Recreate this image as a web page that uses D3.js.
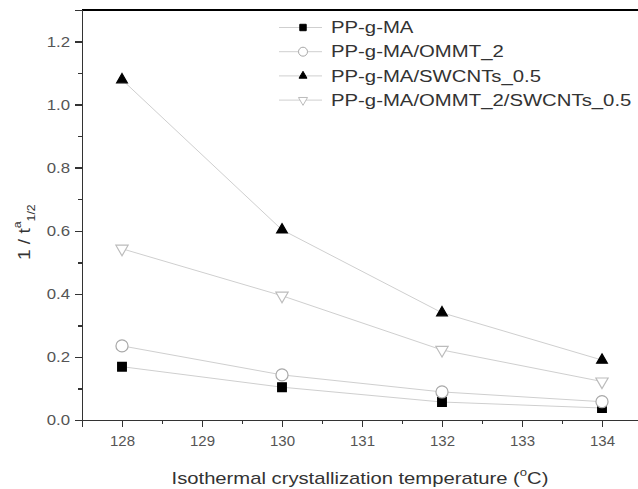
<!DOCTYPE html>
<html>
<head>
  <meta charset="UTF-8">
  <title>1/t1/2 vs isothermal crystallization temperature</title>
  <script src="https://d3js.org/d3.v7.min.js"></script>
  <style>
    body { margin: 0; background: #fff; }
    svg { display: block; font-family: "Liberation Sans", Arial, sans-serif; }
    .axis path, .axis line { stroke: #333; stroke-width: 1.5; shape-rendering: crispEdges; }
    .axis text { fill: #555; font-size: 15px; }
    .series-line { fill: none; stroke: #cfcfcf; stroke-width: 1; }
    .legend text { fill: #333; font-size: 16px; }
  </style>
</head>
<body>
  <svg width="638" height="489"></svg>

  <script>
    const temps = [128, 130, 132, 134];
    const ppgma = [0.169, 0.104, 0.057, 0.038];
    const ommt = [0.235, 0.143, 0.089, 0.058];
    const swcnt = [1.079, 0.603, 0.340, 0.190];
    const ommtSwcnt = [0.543, 0.394, 0.222, 0.122];
    const seriesNames = ["PP-g-MA", "PP-g-MA/OMMT_2", "PP-g-MA/SWCNTs_0.5", "PP-g-MA/OMMT_2/SWCNTs_0.5"];
    const xTicks = [128, 129, 130, 131, 132, 133, 134];
    const yTicks = [0, 0.2, 0.4, 0.6, 0.8, 1.0, 1.2];

    const series = [
      { name: seriesNames[0], values: ppgma, shape: d3.symbolSquare, size: 75, fill: "#000", stroke: "#000", rot: 0 },
      { name: seriesNames[1], values: ommt, shape: d3.symbolCircle, size: 115, fill: "#fff", stroke: "#a8a8a8", rot: 0 },
      { name: seriesNames[2], values: swcnt, shape: d3.symbolTriangle, size: 50, fill: "#000", stroke: "#000", rot: 0 },
      { name: seriesNames[3], values: ommtSwcnt, shape: d3.symbolTriangle, size: 65, fill: "#fff", stroke: "#bcbcbc", rot: 180 }
    ];

    const svg = d3.select("svg");
    const margin = { top: 10, left: 82 };
    const width = 560, height = 410;

    const x = d3.scaleLinear().domain([127.5, 134.5]).range([0, width]);
    const y = d3.scaleLinear().domain([0, 1.3]).range([height, 0]);

    // the original lettering is a bit wider than Liberation Sans
    function stretch(sel, k) {
      sel.each(function() {
        const w = this.getComputedTextLength();
        d3.select(this).attr("textLength", w * k).attr("lengthAdjust", "spacingAndGlyphs");
      });
    }

    const g = svg.append("g").attr("transform", `translate(${margin.left},${margin.top})`);

    // top frame line
    g.append("line")
      .attr("x1", 0).attr("x2", width).attr("y1", 0).attr("y2", 0)
      .attr("stroke", "#000").attr("stroke-width", 2);

    // minor ticks
    const xMinor = d3.axisBottom(x).tickValues(d3.range(127.5, 134.01, 0.5)).tickSize(4).tickFormat("");
    const yMinor = d3.axisLeft(y).tickValues(d3.range(0, 1.31, 0.1)).tickSize(4).tickFormat("");
    g.append("g").attr("class", "axis").attr("transform", `translate(0,${height})`).call(xMinor);
    g.append("g").attr("class", "axis").call(yMinor);

    const xAxis = g.append("g").attr("class", "axis")
      .attr("transform", `translate(0,${height})`)
      .call(d3.axisBottom(x).tickValues(xTicks).tickSize(7).tickPadding(8).tickFormat(d3.format("d")));

    const yAxis = g.append("g").attr("class", "axis")
      .call(d3.axisLeft(y).tickValues(yTicks).tickSize(7).tickPadding(5).tickFormat(d3.format(".1f")));

    stretch(yAxis.selectAll("text"), 1.12);

    g.selectAll(".axis .domain").attr("stroke-width", 2);

    const line = d3.line().x((d, i) => x(temps[i])).y(d => y(d));

    series.forEach(s => {
      g.append("path").attr("class", "series-line").attr("d", line(s.values));
      g.selectAll(null).data(s.values).enter().append("path")
        .attr("d", d3.symbol().type(s.shape).size(s.size))
        .attr("transform", (d, i) => `translate(${x(temps[i])},${y(d)}) rotate(${s.rot})`)
        .attr("fill", s.fill).attr("stroke", s.stroke).attr("stroke-width", 1.2);
    });

    // legend
    const legend = svg.append("g").attr("class", "legend").attr("transform", "translate(279,27.5)");
    series.forEach((s, i) => {
      const row = legend.append("g").attr("transform", `translate(0,${i * 24.2})`);
      row.append("line").attr("x1", 0).attr("x2", 43).attr("stroke", "#cfcfcf");
      row.append("path")
        .attr("d", d3.symbol().type(s.shape).size(s.size * 0.55))
        .attr("transform", `translate(24,0) rotate(${s.rot})`)
        .attr("fill", s.fill).attr("stroke", s.stroke).attr("stroke-width", 1);
      row.append("text").attr("x", 52).attr("dy", "0.36em").text(s.name);
    });
    stretch(legend.selectAll("text"), 1.27);

    // y label: 1 / t^a_{1/2}
    const yl = svg.append("text")
      .attr("transform", "translate(30,260) rotate(-90) scale(1.12,1)")
      .attr("fill", "#333").attr("font-size", 17);
    yl.append("tspan").text("1 / t");
    yl.append("tspan").attr("font-size", 11).attr("dy", -9).text("a");
    yl.append("tspan").attr("font-size", 11).attr("dy", 14).text("1/2");

    // x label
    const xl = svg.append("text")
      .attr("transform", "translate(360,484) scale(1.19,1)")
      .attr("text-anchor", "middle")
      .attr("fill", "#333").attr("font-size", 17);
    xl.append("tspan").text("Isothermal crystallization temperature (");
    xl.append("tspan").attr("font-size", 11).attr("dy", -8).text("o");
    xl.append("tspan").attr("dy", 8).text("C)");
  </script>
</body>
</html>
